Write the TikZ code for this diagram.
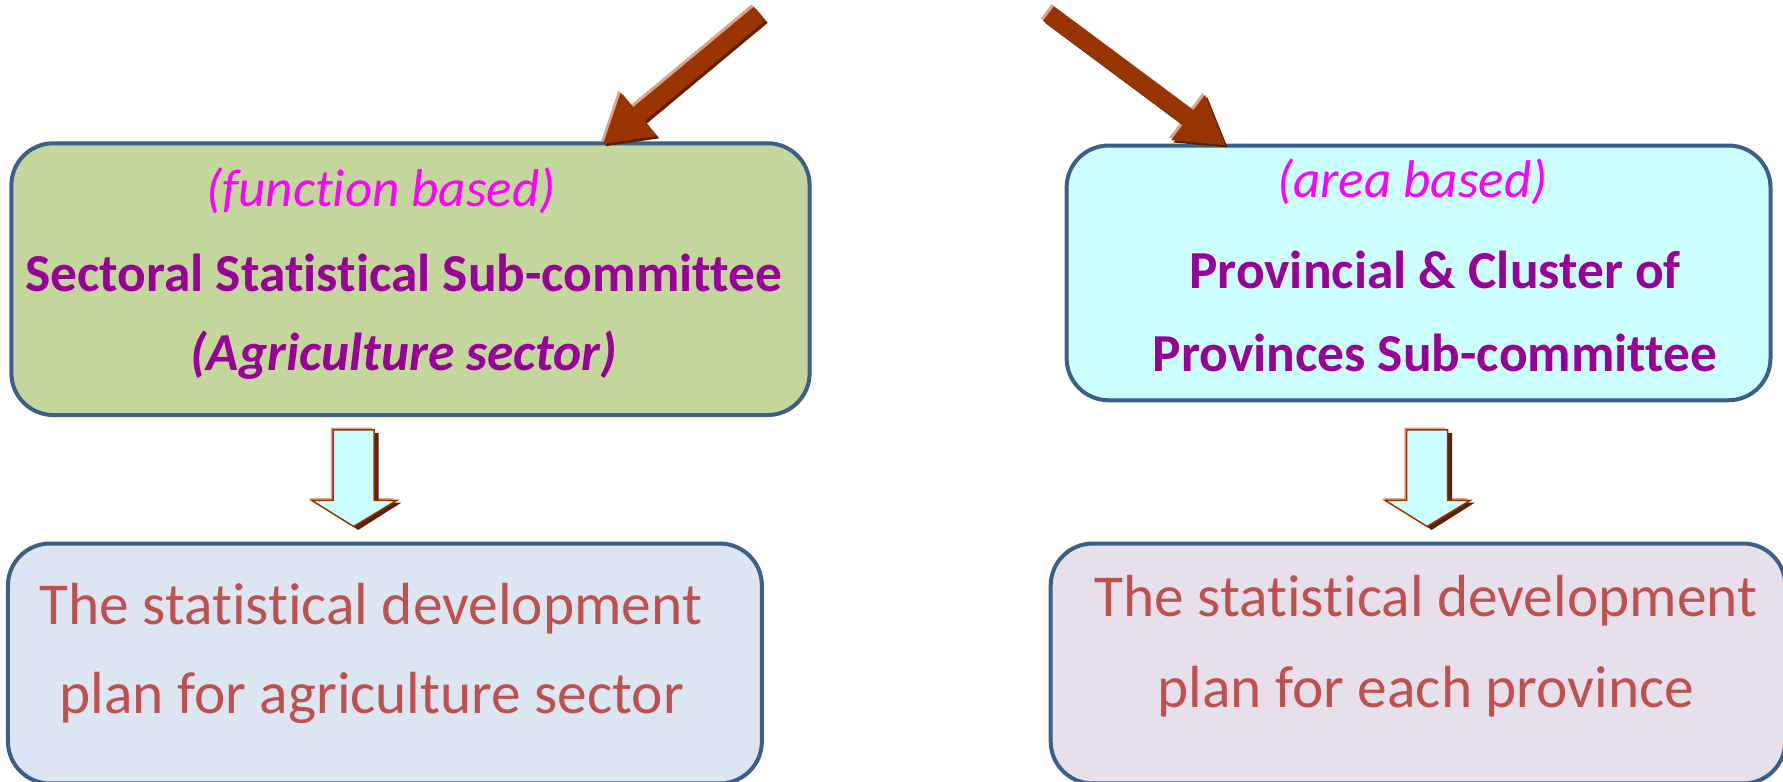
\documentclass[tikz,border=0pt]{standalone}
\usepackage{fontspec}
\setmainfont{Carlito}[Ligatures=NoCommon]
\usetikzlibrary{arrows.meta}
\definecolor{boxline}{HTML}{3A5F8B}
\definecolor{greenfill}{HTML}{C3D69B}
\definecolor{cyanfill}{HTML}{CCFFFF}
\definecolor{bluefill}{HTML}{DCE6F2}
\definecolor{pinkfill}{HTML}{E6E0EC}
\definecolor{brownarrow}{HTML}{993300}
\definecolor{brownshadow}{HTML}{5C1F00}
\definecolor{brownlight}{HTML}{D9A58C}
\definecolor{purpletext}{HTML}{990099}
\definecolor{pinktext}{HTML}{FF00FF}
\definecolor{redtext}{HTML}{C0504D}
\begin{document}
\begin{tikzpicture}[x=0.01137cm, y=-0.01137cm]
\tikzset{boite/.style={draw=boxline, line width=0.4mm, rounded corners=0.42cm},
  titre/.style={text=purpletext, inner sep=0pt, font=\fontsize{15.2}{18}\selectfont\bfseries},
  souligne/.style={text=pinktext, inner sep=0pt, font=\fontsize{15.1}{18}\selectfont\itshape},
  plan/.style={text=redtext, inner sep=0pt, font=\fontsize{16.9}{20}\selectfont},
  fleche/.style={line width=0.18cm, -{Triangle[length=0.47cm, width=0.53cm]}},
  descente/.style={draw=brownarrow, fill=cyanfill, line width=0.15mm, line join=miter}}
\useasboundingbox (0, 0) rectangle (1568, 687);
\clip (0, 0) rectangle (1568, 687);
% boxes
\draw[boite, fill=greenfill] (10, 126) rectangle (712, 365);
\draw[boite, fill=cyanfill] (938, 128) rectangle (1557, 352);
\draw[boite, fill=bluefill] (7, 478) rectangle (670, 689);
\draw[boite, fill=pinkfill] (924, 478) rectangle (1570, 689);
% texts
\node[souligne] (F) at (335, 168) {(function based)};
\node[titre] (S) at (355, 240) {Sectoral Statistical Sub-committee};
\node[titre] (A) at (355, 312) {\itshape (Agriculture sector)};
\node[souligne] (R) at (1242, 160) {(area based)};
\node[titre] (P) at (1262, 237) {Provincial \& Cluster of};
\node[titre] (Q) at (1262, 310) {Provinces Sub-committee};
\node[plan] (T1) at (326, 535) {The statistical development};
\node[plan] (T2) at (327, 614) {plan for agriculture sector};
\node[plan] (T3) at (1254, 528) {The statistical development};
\node[plan] (T4) at (1254, 608) {plan for each province};
% arrows from above
\coordinate (H1) at (668, 12);
\coordinate (B1) at (530, 127);
\coordinate (H2) at (922, 12);
\coordinate (B2) at (1078, 128);
\draw[fleche, brownlight] ([shift={(-2,-2)}]H1) -- ([shift={(-2,-2)}]B1);
\draw[fleche, brownshadow] ([shift={(2,2)}]H1) -- ([shift={(2,2)}]B1);
\draw[fleche, brownarrow] (H1) -- (B1);
\draw[fleche, brownlight] ([shift={(-2,-2)}]H2) -- ([shift={(-2,-2)}]B2);
\draw[fleche, brownshadow] ([shift={(2,2)}]H2) -- ([shift={(2,2)}]B2);
\draw[fleche, brownarrow] (H2) -- (B2);
% arrows down
\foreach \cx/\nom in {311/D1, 1255/D2} {
  \coordinate (\nom) at (\cx, 378);
  \begin{scope}[shift={(\nom)}]
    \fill[brownlight] (-20, -2) -- (16, -2) -- (16, 60) -- (36, 60) -- (-2, 83) -- (-39, 60) -- (-20, 60) -- cycle;
    \fill[brownshadow] (-15, 3) -- (22, 3) -- (22, 64) -- (42, 64) -- (4, 88) -- (-33, 64) -- (-15, 64) -- cycle;
    \draw[descente] (-18, 0) -- (18, 0) -- (18, 62) -- (38, 62) -- (0, 85) -- (-37, 62) -- (-18, 62) -- cycle;
  \end{scope}
}
\end{tikzpicture}
\end{document}
